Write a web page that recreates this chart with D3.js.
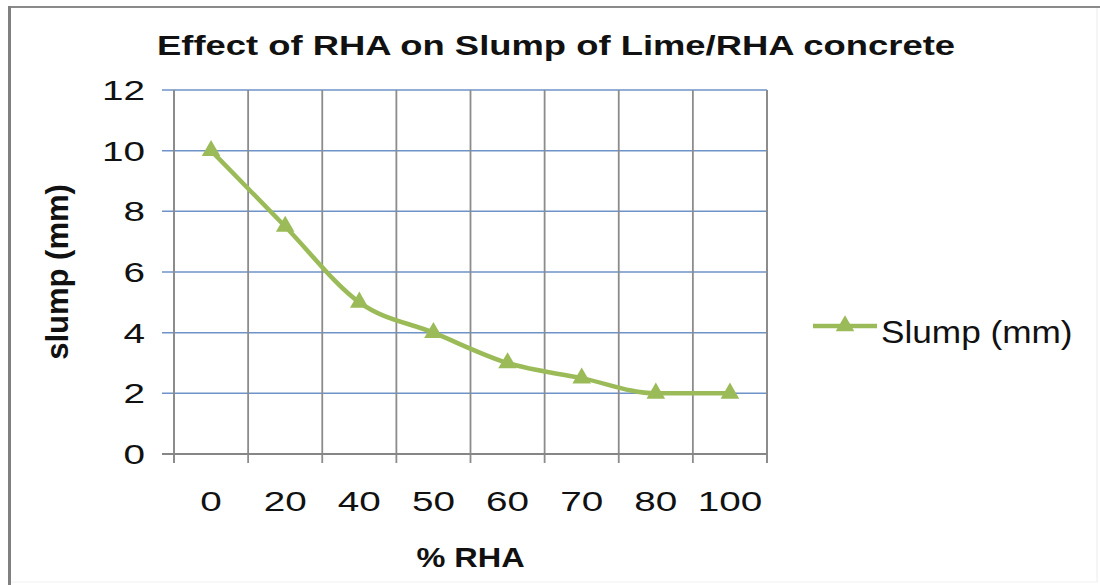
<!DOCTYPE html>
<html>
<head>
<meta charset="utf-8">
<script src="https://cdn.jsdelivr.net/npm/d3@7"></script>
<style>
  html, body { margin: 0; padding: 0; background: #fff; }
  svg { display: block; }
  text { font-family: "Liberation Sans", Arial, sans-serif; fill: #111; }
</style>
</head>
<body>
<svg id="chart" width="1100" height="585"></svg>
<script>
// Slump measurements for each RHA replacement level
const categories = ["0", "20", "40", "50", "60", "70", "80", "100"];
const slump = [10, 7.5, 5, 4, 3, 2.5, 2, 2];
const yTicks = [0, 2, 4, 6, 8, 10, 12];
const titleText = "Effect of RHA on Slump of Lime/RHA concrete";
const xTitle = "% RHA";
const yTitle = "slump (mm)";
const seriesName = "Slump (mm)";

const svg = d3.select("#chart");
const W = 1100, H = 585;
const plot = { left: 174, right: 767, top: 90, bottom: 454 };
const green = "#9bbb59";

// outer frame
svg.append("rect").attr("x", 0).attr("y", 0).attr("width", W).attr("height", H).attr("fill", "#fff");
svg.append("line").attr("x1", 8).attr("x2", W).attr("y1", 7).attr("y2", 7)
  .attr("stroke", "#8a8a8a").attr("stroke-width", 2);
svg.append("line").attr("x1", 9.5).attr("x2", 9.5).attr("y1", 6).attr("y2", H)
  .attr("stroke", "#808080").attr("stroke-width", 3);
svg.append("line").attr("x1", 1097).attr("x2", 1097).attr("y1", 8).attr("y2", 582)
  .attr("stroke", "#ececec").attr("stroke-width", 1);
svg.append("line").attr("x1", 11).attr("x2", 1097).attr("y1", 582).attr("y2", 582)
  .attr("stroke", "#f0f0f0").attr("stroke-width", 1);

const x = d3.scaleBand().domain(categories).range([plot.left, plot.right]).padding(0);
const y = d3.scaleLinear().domain([0, 12]).range([plot.bottom, plot.top]);

// horizontal text, stretched sideways
function stretchedText(g, str, px, py, size, sx, anchor, weight) {
  return g.append("text")
    .attr("transform", `translate(${px},${py}) scale(${sx},1)`)
    .attr("text-anchor", anchor)
    .attr("font-size", size)
    .attr("font-weight", weight || "normal")
    .text(str);
}

// horizontal gridlines (blue), extending left as ticks
const grid = svg.append("g");
yTicks.filter(t => t > 0).forEach(t => {
  grid.append("line")
    .attr("x1", plot.left - 12).attr("x2", plot.right)
    .attr("y1", y(t)).attr("y2", y(t))
    .attr("stroke", "#6f93c8").attr("stroke-width", 1.5);
});

// vertical gridlines at category boundaries (gray)
const bounds = categories.map(c => x(c)).concat([x(categories[categories.length - 1]) + x.bandwidth()]);
bounds.forEach((bx, i) => {
  grid.append("line")
    .attr("x1", bx).attr("x2", bx)
    .attr("y1", plot.top).attr("y2", plot.bottom + 9)
    .attr("stroke", "#8c8c8c").attr("stroke-width", i === 0 || i === bounds.length - 1 ? 2 : 1.8);
});

// category axis line
grid.append("line")
  .attr("x1", plot.left - 12).attr("x2", plot.right)
  .attr("y1", y(0)).attr("y2", y(0))
  .attr("stroke", "#868686").attr("stroke-width", 2);

// y tick labels
const yLab = svg.append("g");
yTicks.forEach(t => {
  stretchedText(yLab, String(t), 145, y(t) + 10, 28, 1.38, "end");
});

// x tick labels
const xLab = svg.append("g");
categories.forEach(c => {
  stretchedText(xLab, c, x(c) + x.bandwidth() / 2, 511, 28, 1.38, "middle");
});

// titles
stretchedText(svg, titleText, 556, 55, 28, 1.3, "middle", "bold");
stretchedText(svg, xTitle, (plot.left + plot.right) / 2, 567, 28, 1.16, "middle", "bold");
svg.append("text")
  .attr("transform", `translate(68,${(plot.top + plot.bottom) / 2}) rotate(-90)`)
  .attr("text-anchor", "middle")
  .attr("font-size", 31)
  .attr("font-weight", "bold")
  .text(yTitle);

// series line
const line = d3.line()
  .x((d, i) => x(categories[i]) + x.bandwidth() / 2)
  .y(d => y(d))
  .curve(d3.curveMonotoneX);

svg.append("path")
  .datum(slump)
  .attr("d", line)
  .attr("fill", "none")
  .attr("stroke", green)
  .attr("stroke-width", 4.5)
  .attr("stroke-linejoin", "round");

// triangle markers
const tri = d3.symbol().type(d3.symbolTriangle).size(150);
svg.append("g").selectAll("path")
  .data(slump)
  .join("path")
  .attr("d", tri)
  .attr("transform", (d, i) => `translate(${x(categories[i]) + x.bandwidth() / 2},${y(d)})`)
  .attr("fill", green);

// legend
const lg = svg.append("g");
lg.append("line").attr("x1", 813).attr("x2", 877).attr("y1", 326).attr("y2", 326)
  .attr("stroke", green).attr("stroke-width", 4.5);
lg.append("path").attr("d", tri).attr("transform", "translate(845,326)").attr("fill", green);
stretchedText(lg, seriesName, 881, 343, 32, 1.1, "start");
</script>
</body>
</html>
